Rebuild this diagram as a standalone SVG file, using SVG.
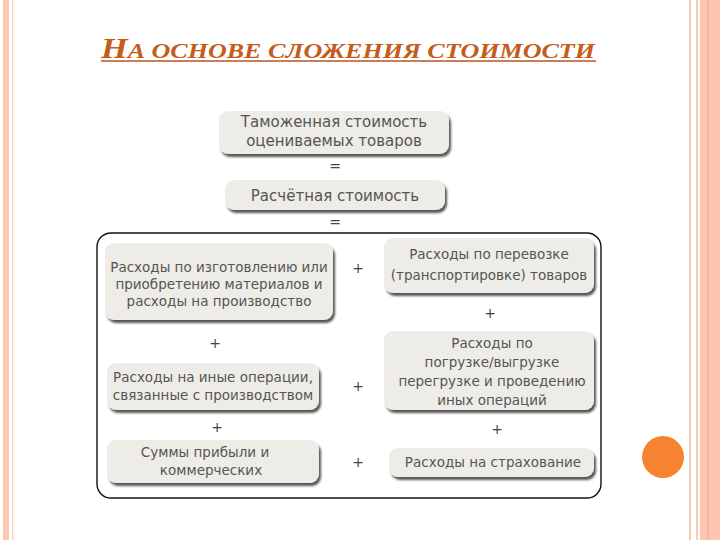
<svg xmlns="http://www.w3.org/2000/svg" width="720" height="540" viewBox="0 0 720 540">
<defs>
<filter id="sh" x="-10%" y="-20%" width="125%" height="150%">
<feDropShadow dx="2" dy="3" stdDeviation="1.3" flood-color="#2a2a2a" flood-opacity="0.8"/>
</filter>
</defs>
<style>
.box{fill:#eeece7;filter:url(#sh)}
.t{font-family:"DejaVu Sans","Liberation Sans",sans-serif;font-size:13.5px;fill:#555;text-anchor:middle}
.tb{font-family:"DejaVu Sans","Liberation Sans",sans-serif;font-size:15px;fill:#555;text-anchor:middle}
.op{font-family:"DejaVu Sans",sans-serif;font-size:14px;fill:#444;text-anchor:middle}
</style>
<rect width="720" height="540" fill="#fff"/>
<!-- decorative borders -->
<rect x="3" y="0" width="6" height="540" fill="#fcc8b2"/>
<rect x="12" y="0" width="1.5" height="540" fill="#f7d6c6"/>
<rect x="689" y="0" width="2" height="540" fill="#f0cbb8"/>
<rect x="696" y="0" width="2" height="540" fill="#f7cdb9"/>
<rect x="700" y="0" width="20" height="540" fill="#fdc6b0"/>
<rect x="707" y="0" width="2" height="540" fill="#f4b8a0"/>
<circle cx="663" cy="457" r="21" fill="#f5832f"/>
<!-- title -->
<text x="101" y="58" font-family="Liberation Serif,serif" font-weight="bold" font-style="italic" fill="#c45c1c" textLength="494" lengthAdjust="spacingAndGlyphs"><tspan font-size="29">Н</tspan><tspan font-size="22">А ОСНОВЕ СЛОЖЕНИЯ СТОИМОСТИ</tspan></text>
<line x1="101" y1="61" x2="596" y2="61" stroke="#b5561c" stroke-width="1.5"/>
<!-- container -->
<rect x="97" y="233" width="504" height="265" rx="14" fill="none" stroke="#111" stroke-width="1.4"/>
<g id="node-customs">
<rect class="box" x="219" y="111" width="230" height="43" rx="9"/>
<text class="tb" x="334" y="127">Таможенная стоимость</text>
<text class="tb" x="334" y="146">оцениваемых товаров</text>
</g>
<g id="node-calc">
<rect class="box" x="225" y="180" width="220" height="30" rx="9"/>
<text class="tb" x="335" y="201">Расчётная стоимость</text>
</g>
<g id="node-manuf">
<rect class="box" x="105" y="243" width="228" height="77" rx="9"/>
<text class="t" x="219" y="272">Расходы по изготовлению или</text>
<text class="t" x="219" y="289">приобретению материалов и</text>
<text class="t" x="219" y="306">расходы на производство</text>
</g>
<g id="node-other">
<rect class="box" x="107" y="363" width="212" height="47" rx="9"/>
<text class="t" x="213" y="382">Расходы на иные операции,</text>
<text class="t" x="213" y="400">связанные с производством</text>
</g>
<g id="node-profit">
<rect class="box" x="107" y="440" width="212" height="43" rx="9"/>
<text class="t" x="205" y="457">Суммы прибыли и</text>
<text class="t" x="211" y="475">коммерческих</text>
</g>
<g id="node-transport">
<rect class="box" x="384" y="238" width="210" height="55" rx="9"/>
<text class="t" x="489" y="259">Расходы по перевозке</text>
<text class="t" x="489" y="280">(транспортировке) товаров</text>
</g>
<g id="node-loading">
<rect class="box" x="384" y="331" width="210" height="79" rx="9"/>
<text class="t" x="492" y="348">Расходы по</text>
<text class="t" x="492" y="367">погрузке/выгрузке</text>
<text class="t" x="492" y="386">перегрузке и проведению</text>
<text class="t" x="492" y="405">иных операций</text>
</g>
<g id="node-insurance">
<rect class="box" x="389" y="448" width="205" height="29" rx="9"/>
<text class="t" x="493" y="467">Расходы на страхование</text>
</g>
<g id="connectors">
<text class="op" x="335" y="171">=</text>
<text class="op" x="335" y="227">=</text>
<text class="op" x="358" y="273">+</text>
<text class="op" x="490" y="318">+</text>
<text class="op" x="215" y="348">+</text>
<text class="op" x="358" y="391">+</text>
<text class="op" x="217" y="432">+</text>
<text class="op" x="497" y="434">+</text>
<text class="op" x="358" y="467">+</text>
</g>
</svg>
